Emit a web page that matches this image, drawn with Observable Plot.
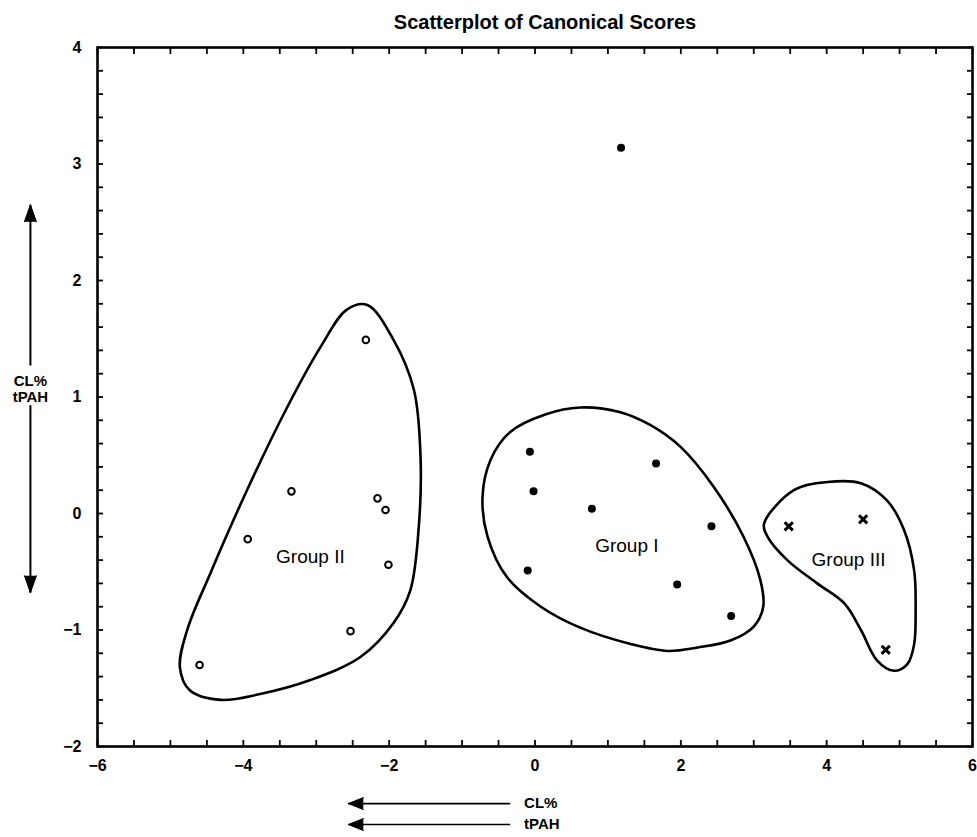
<!DOCTYPE html>
<html>
<head>
<meta charset="utf-8">
<script src="https://cdn.jsdelivr.net/npm/d3@7"></script>
<script src="https://cdn.jsdelivr.net/npm/@observablehq/plot@0.6"></script>
<style>
  body { margin: 0; background: #fff; }
</style>
</head>
<body>
<div id="chart"></div>
<script>
const title = "Scatterplot of Canonical Scores";

// Canonical scores (axis 1, axis 2) for each sample
const groupIScores = [
  [-0.07, 0.53], [-0.02, 0.19], [0.78, 0.04], [1.66, 0.43], [2.42, -0.11],
  [-0.10, -0.49], [1.95, -0.61], [2.69, -0.88], [1.18, 3.14]
];
const groupIIScores = [
  [-2.32, 1.49], [-3.34, 0.19], [-2.16, 0.13], [-2.05, 0.03],
  [-3.94, -0.22], [-2.01, -0.44], [-2.53, -1.01], [-4.60, -1.30]
];
const groupIIIScores = [[3.48, -0.11], [4.50, -0.05], [4.81, -1.17]];

// Hand-drawn envelopes around each group (closed outlines)
const groupIOutline = [
  [-0.72, 0.14], [-0.61, 0.46], [-0.34, 0.70], [0.14, 0.85], [0.62, 0.91],
  [1.17, 0.87], [1.58, 0.76], [2.00, 0.57], [2.45, 0.23], [2.86, -0.20],
  [3.09, -0.57], [3.13, -0.80], [3.00, -0.97], [2.68, -1.09], [2.23, -1.15],
  [1.82, -1.18], [1.31, -1.12], [0.62, -0.98], [0.08, -0.80], [-0.38, -0.55],
  [-0.65, -0.20]
];
const groupIIOutline = [
  [-2.30, 1.79], [-1.94, 1.49], [-1.66, 1.06], [-1.57, 0.49], [-1.59, -0.08],
  [-1.71, -0.66], [-1.94, -0.94], [-2.39, -1.23], [-3.08, -1.43], [-3.77, -1.55],
  [-4.31, -1.60], [-4.73, -1.52], [-4.87, -1.32], [-4.77, -1.00], [-4.45, -0.51],
  [-3.95, 0.20], [-3.40, 0.91], [-2.94, 1.43], [-2.58, 1.75]
];
const groupIIIOutline = [
  [3.14, -0.09], [3.55, 0.20], [4.01, 0.27], [4.47, 0.26], [4.83, 0.11],
  [5.06, -0.14], [5.20, -0.49], [5.22, -0.83], [5.20, -1.12], [5.11, -1.29],
  [4.92, -1.35], [4.69, -1.26], [4.47, -1.00], [4.24, -0.77], [3.87, -0.60],
  [3.46, -0.40], [3.19, -0.20]
];

const groupNames = ["Group I", "Group II", "Group III"];
const groupLabelX = [1.26, -3.08, 4.30];
const groupLabelY = [-0.28, -0.37, -0.40];

// Axis ticks
const xTickLabels = [-6, -4, -2, 0, 2, 4, 6];
const yTickLabels = [-2, -1, 0, 1, 2, 3, 4];
const xMinorStep = 0.5;
const yMinorStep = 0.2;

// Loading directions of the two variables, drawn beside the axes
const loadingNames = ["CL%", "tPAH"];
const loadingArrowX = [{from: -0.34, to: -2.56, y: -2.49}, {from: -0.34, to: -2.56, y: -2.67}];
const loadingArrowY = [{x: -6.92, from: 1.27, to: 2.65}, {x: -6.92, from: 0.93, to: -0.68}];
const loadingLabelX = -0.15;
const loadingLabelY = 1.07;

const font = "'Liberation Sans', Arial, Helvetica, sans-serif";
const xMinor = d3.range(-6, 6 + 1e-9, xMinorStep).map(v => +v.toFixed(2));
const yMinor = d3.range(-2, 4 + 1e-9, yMinorStep).map(v => +v.toFixed(2));
const fmt = d => d < 0 ? "\u2212" + (-d) : String(d);
const pts = arr => arr.map(([x, y]) => ({x, y}));
const outline = (arr, g) => arr.map(([x, y]) => ({x, y, g}));
const outlines = [
  ...outline(groupIOutline, "I"),
  ...outline(groupIIOutline, "II"),
  ...outline(groupIIIOutline, "III")
];
const groupLabels = groupNames.map((name, i) => ({name, x: groupLabelX[i], y: groupLabelY[i]}));
const hArrows = loadingArrowX.map((a, i) => ({...a, name: loadingNames[i]}));

const chart = Plot.plot({
  width: 977,
  height: 837,
  marginTop: 47,
  marginLeft: 97,
  marginRight: 5,
  marginBottom: 91,
  x: {domain: [-6, 6]},
  y: {domain: [-2, 4]},
  style: {fontFamily: font, color: "#000", background: "#fff", overflow: "visible"},
  marks: [
    // inward ticks on all four sides
    Plot.axisX(xMinor, {anchor: "bottom", tickSize: -6, tickFormat: () => "", label: null, strokeWidth: 1.8}),
    Plot.axisX(xMinor, {anchor: "top", tickSize: -6, tickFormat: () => "", label: null, strokeWidth: 1.8}),
    Plot.axisY(yMinor, {anchor: "left", tickSize: -6, tickFormat: () => "", label: null, strokeWidth: 1.8}),
    Plot.axisY(yMinor, {anchor: "right", tickSize: -6, tickFormat: () => "", label: null, strokeWidth: 1.8}),
    // tick labels
    Plot.axisX(xTickLabels, {anchor: "bottom", tickSize: 0, tickPadding: 13, tickFormat: fmt, label: null, fontSize: 16, fontWeight: "bold"}),
    Plot.axisY(yTickLabels, {anchor: "left", tickSize: 0, tickPadding: 16, tickFormat: fmt, label: null, fontSize: 16, fontWeight: "bold"}),
    Plot.frame({strokeWidth: 2.6}),
    // title
    Plot.text([title], {frameAnchor: "top", dx: 10, dy: -33, fontSize: 20, fontWeight: "bold", text: d => d, style: "letter-spacing:1.1px"}),
    // group envelopes
    Plot.line(outlines, {x: "x", y: "y", z: "g", curve: "catmull-rom-closed", stroke: "#000", strokeWidth: 2.6}),
    // points
    Plot.dot(pts(groupIIScores), {x: "x", y: "y", r: 3.3, stroke: "#000", strokeWidth: 2, fill: "#fff"}),
    Plot.dot(pts(groupIScores), {x: "x", y: "y", r: 4, fill: "#000", stroke: "none"}),
    Plot.dot(pts(groupIIIScores), {x: "x", y: "y", symbol: "times", r: 3.8, stroke: "#000", strokeWidth: 3}),
    // group labels
    Plot.text(groupLabels, {x: "x", y: "y", text: "name", fontSize: 19}),
    // horizontal loading arrows
    Plot.link(hArrows, {x1: "from", x2: "to", y1: "y", y2: "y", stroke: "#000", strokeWidth: 1.6}),
    Plot.vector(hArrows, {x: "to", y: "y", length: 15, rotate: -90, anchor: "end", shape: "spike", r: 6, fill: "#000", stroke: "#000", strokeWidth: 1}),
    Plot.text(hArrows, {x: loadingLabelX, y: "y", text: "name", textAnchor: "start", fontSize: 15, fontWeight: "bold"}),
    // vertical loading arrows
    Plot.link(loadingArrowY, {x1: "x", x2: "x", y1: "from", y2: "to", stroke: "#000", strokeWidth: 2}),
    Plot.vector(loadingArrowY, {x: "x", y: "to", length: 17, rotate: d => d.to > d.from ? 0 : 180, anchor: "end", shape: "spike", r: 6, fill: "#000", stroke: "#000", strokeWidth: 1}),
    Plot.text([loadingNames.join("\n")], {x: loadingArrowY[0].x, y: loadingLabelY, text: d => d, fontSize: 15, fontWeight: "bold", lineHeight: 1.05})
  ]
});

document.getElementById("chart").appendChild(chart);
</script>
</body>
</html>
